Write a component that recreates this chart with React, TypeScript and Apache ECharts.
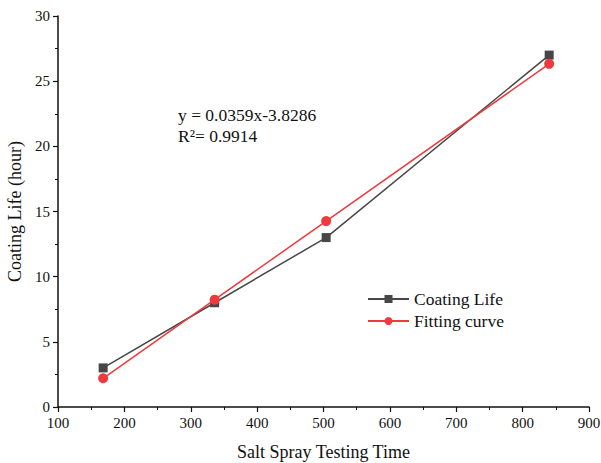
import React, { useEffect, useRef } from "react";
import * as echarts from "echarts";

const xValues = [168, 336, 504, 840];
const coatingLife = [3, 8, 13, 27];
const fittingCurve = [2.2026, 8.2338, 14.265, 26.3274];
const seriesNames = ["Coating Life", "Fitting curve"];
const equationLines = ["y = 0.0359x-3.8286", "R²= 0.9914"];

const FONT = "Liberation Serif";

export default function App() {
  const ref = useRef<HTMLDivElement>(null);
  useEffect(() => {
    if (!ref.current) return;
    const chart = echarts.init(ref.current, undefined, { renderer: "svg" });
    chart.setOption({
      animation: false,
      backgroundColor: "#ffffff",
      textStyle: { fontFamily: FONT },
      grid: { left: 58, right: 12, top: 16, bottom: 56, containLabel: false, outerBoundsMode: "none" },
      legend: {
        left: 362,
        top: 285,
        orient: "vertical",
        itemWidth: 41,
        itemHeight: 10,
        itemGap: 4,
        textStyle: { fontFamily: FONT, fontSize: 17.5, color: "#111" },
        data: seriesNames,
      },
      xAxis: {
        type: "value",
        min: 100,
        max: 900,
        interval: 100,
        name: "Salt Spray Testing Time",
        nameLocation: "middle",
        nameGap: 36,
        nameTextStyle: { fontFamily: FONT, fontSize: 18, color: "#111" },
        axisLine: { lineStyle: { color: "#111", width: 1.5 } },
        axisTick: { inside: false, length: 5, lineStyle: { color: "#111", width: 1.2 } },
        minorTick: { show: true, splitNumber: 2, length: 3, lineStyle: { color: "#111", width: 1 } },
        splitLine: { show: false },
        axisLabel: { fontFamily: FONT, fontSize: 15, color: "#111", margin: 8 },
      },
      yAxis: {
        type: "value",
        min: 0,
        max: 30,
        interval: 5,
        name: "Coating Life (hour)",
        nameLocation: "middle",
        nameGap: 29,
        nameTextStyle: { fontFamily: FONT, fontSize: 18, color: "#111" },
        axisLine: { show: true, lineStyle: { color: "#111", width: 1.5 } },
        axisTick: { show: true, inside: false, length: 5, lineStyle: { color: "#111", width: 1.2 } },
        minorTick: { show: true, splitNumber: 2, length: 3, lineStyle: { color: "#111", width: 1 } },
        splitLine: { show: false },
        axisLabel: { fontFamily: FONT, fontSize: 15, color: "#111", margin: 8 },
      },
      series: [
        {
          name: seriesNames[0],
          type: "line",
          data: xValues.map((x, i) => [x, coatingLife[i]]),
          symbol: "rect",
          symbolSize: 9,
          lineStyle: { color: "#474747", width: 1.5 },
          itemStyle: { color: "#474747" },
          z: 2,
        },
        {
          name: seriesNames[1],
          type: "line",
          data: xValues.map((x, i) => [x, fittingCurve[i]]),
          symbol: "circle",
          symbolSize: 10,
          lineStyle: { color: "#ee3a3d", width: 1.5 },
          itemStyle: { color: "#ee3a3d" },
          z: 3,
        },
      ],
      graphic: [
        {
          type: "text",
          left: 178,
          top: 104,
          style: {
            text: equationLines.join("\n"),
            fontFamily: FONT,
            fontSize: 17.5,
            fill: "#111",
            lineHeight: 21,
          },
        },
      ],
    });
    return () => chart.dispose();
  }, []);
  return <div ref={ref} style={{ width: 601, height: 463, position: "absolute", left: 0, top: 0 }} />;
}
